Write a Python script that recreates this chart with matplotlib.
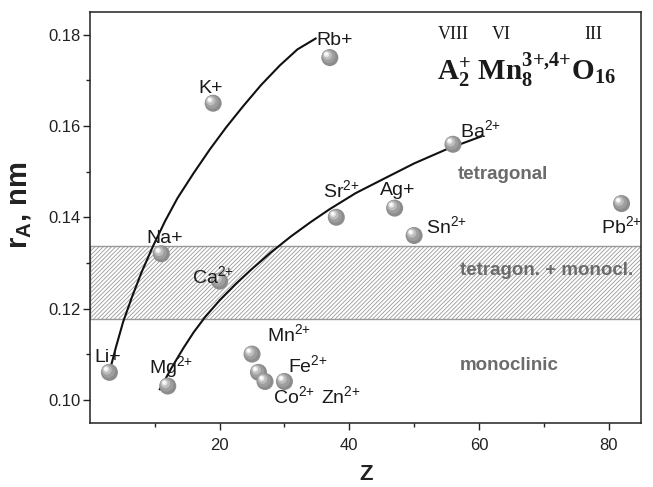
import matplotlib
matplotlib.use("Agg")
import matplotlib.pyplot as plt
from matplotlib import transforms

plt.rcParams['font.family'] = ['Liberation Sans', 'DejaVu Sans']
plt.rcParams['mathtext.default'] = 'regular'
plt.rcParams['hatch.linewidth'] = 0.6

# Ions: atomic number Z and A-site radius r_A (nm)
ions = ['Li+', 'Na+', 'K+', 'Rb+', 'Mg2+', 'Ca2+', 'Sr2+', 'Ba2+',
        'Ag+', 'Sn2+', 'Pb2+', 'Mn2+', 'Fe2+', 'Co2+', 'Zn2+']
z_vals = [3, 11, 19, 37, 12, 20, 38, 56, 47, 50, 82, 25, 26, 27, 30]
r_vals = [0.106, 0.132, 0.165, 0.175, 0.103, 0.126, 0.140, 0.156,
          0.142, 0.136, 0.143, 0.110, 0.106, 0.104, 0.104]

# Label text for each ion
label_text = ['Li+', 'Na+', 'K+', 'Rb+', r'Mg$^{2{+}}$', r'Ca$^{2{+}}$',
              r'Sr$^{2{+}}$', r'Ba$^{2{+}}$', 'Ag+', r'Sn$^{2{+}}$',
              r'Pb$^{2{+}}$', r'Mn$^{2{+}}$', r'Fe$^{2{+}}$', r'Co$^{2{+}}$',
              r'Zn$^{2{+}}$']
label_z = [0.7, 8.7, 16.7, 34.9, 9.1, 15.8, 36.0, 57.1, 44.7, 51.8, 78.9,
           27.3, 30.6, 28.3, 35.7]
label_r = [0.1083, 0.1344, 0.1673, 0.1778, 0.1058, 0.1255, 0.1445, 0.1575,
           0.1449, 0.1365, 0.1365, 0.1129, 0.1061, 0.0992, 0.0992]

# Trend line for the singly charged alkali ions
trend1_z = [3.0, 4.0, 5.1, 6.5, 8.0, 9.8, 11.6, 13.5, 16.0, 18.5, 21.0,
            23.6, 26.4, 29.3, 32.0, 34.95]
trend1_r = [0.1061, 0.1115, 0.1170, 0.1226, 0.1281, 0.1339, 0.1392, 0.1442,
            0.1497, 0.1549, 0.1597, 0.1643, 0.1690, 0.1733, 0.1768, 0.1793]
# Trend line for the doubly charged alkaline-earth ions
trend2_z = [10.7, 12.5, 14.4, 16.0, 17.8, 20.0, 22.5, 25.0, 28.0, 31.0,
            34.0, 37.0, 41.0, 45.0, 50.0, 55.0, 60.5]
trend2_r = [0.1021, 0.1068, 0.1113, 0.1148, 0.1182, 0.1218, 0.1254, 0.1287,
            0.1324, 0.1358, 0.1389, 0.1418, 0.1453, 0.1482, 0.1518, 0.1549,
            0.1578]

# Two-phase region
band_low, band_high = 0.1177, 0.1338

fig = plt.figure(figsize=(6.53, 4.87), dpi=100)
ax = fig.add_axes([0.1378, 0.1314, 0.8438, 0.8440])
ax.set_xlim(0, 85)
ax.set_ylim(0.0949, 0.185)

ax.axhspan(band_low, band_high, facecolor='white', edgecolor='#999999',
           hatch='////////', linewidth=1.0, zorder=1)

ax.plot(trend1_z, trend1_r, color='#111111', lw=1.5, zorder=3,
        solid_capstyle='butt', solid_joinstyle='round')
ax.plot(trend2_z, trend2_r, color='#111111', lw=1.5, zorder=3,
        solid_capstyle='butt', solid_joinstyle='round')

# Shaded spheres built from stacked discs
layers = [(150, '#8c8c8c', 0.0), (95, '#9e9e9e', 0.9), (45, '#bdbdbd', 1.7),
          (16, '#e6e6e6', 2.3), (5, '#ffffff', 2.6)]
for size, col, off in layers:
    tr = transforms.offset_copy(ax.transData, fig=fig, x=-off, y=off, units='points')
    ax.scatter(z_vals, r_vals, s=size, color=col, edgecolors='none',
               transform=tr, zorder=4, clip_on=False)

for t, lz, lr in zip(label_text, label_z, label_r):
    ax.text(lz, lr, t, fontsize=14, color='#1a1a1a', ha='left', va='baseline',
            zorder=5, clip_on=False)

phase_color = '#6b6b6b'
ax.text(56.7, 0.1483, 'tetragonal', fontsize=13.5, fontweight='bold',
        color=phase_color, ha='left', va='baseline', zorder=5)
ax.text(57.1, 0.1273, 'tetragon. + monocl.', fontsize=13.5, fontweight='bold',
        color=phase_color, ha='left', va='baseline', zorder=5)
ax.text(57.1, 0.1065, 'monoclinic', fontsize=13.5, fontweight='bold',
        color=phase_color, ha='left', va='baseline', zorder=5)

# Formula with coordination numbers
serif = ['Liberation Serif', 'DejaVu Serif']
for txt, zx in [('VIII', 56.0), ('VI', 63.5), ('III', 77.6)]:
    ax.text(zx, 0.180, txt, fontsize=13, family=serif, color='#1a1a1a',
            ha='center', va='center', zorder=5)
ax.text(53.6, 0.1701, r'A$_2^{{+}}$ Mn$_8^{3{+}{,}4{+}}$O$_{16}$', fontsize=21,
        family=serif, fontweight='bold', color='#1a1a1a',
        ha='left', va='baseline', zorder=5)

ax.set_xticks([20, 40, 60, 80])
ax.set_xticks([10, 30, 50, 70], minor=True)
ax.set_yticks([0.10, 0.12, 0.14, 0.16, 0.18])
ax.set_yticks([0.11, 0.13, 0.15, 0.17], minor=True)
ax.set_yticklabels(['0.10', '0.12', '0.14', '0.16', '0.18'])
ax.tick_params(axis='both', which='major', direction='out', length=5,
               width=1.0, labelsize=12, colors='#222222')
ax.tick_params(axis='both', which='minor', direction='out', length=3, width=1.0,
               colors='#222222')
ax.tick_params(axis='x', which='major', pad=6)
ax.tick_params(axis='y', which='major', pad=2)

for sp in ax.spines.values():
    sp.set_linewidth(1.1)
    sp.set_color('#222222')
    sp.set_zorder(6)

ax.set_xlabel('Z', fontsize=16, fontweight='bold', color='#222222', va='center')
ax.xaxis.set_label_coords(0.502, -0.125)
ax.set_ylabel(r'r$_A$, nm', fontsize=21, fontweight='bold', color='#222222',
              va='center')
ax.yaxis.set_label_coords(-0.127, 0.53)

fig.savefig('out.png', dpi=100)
